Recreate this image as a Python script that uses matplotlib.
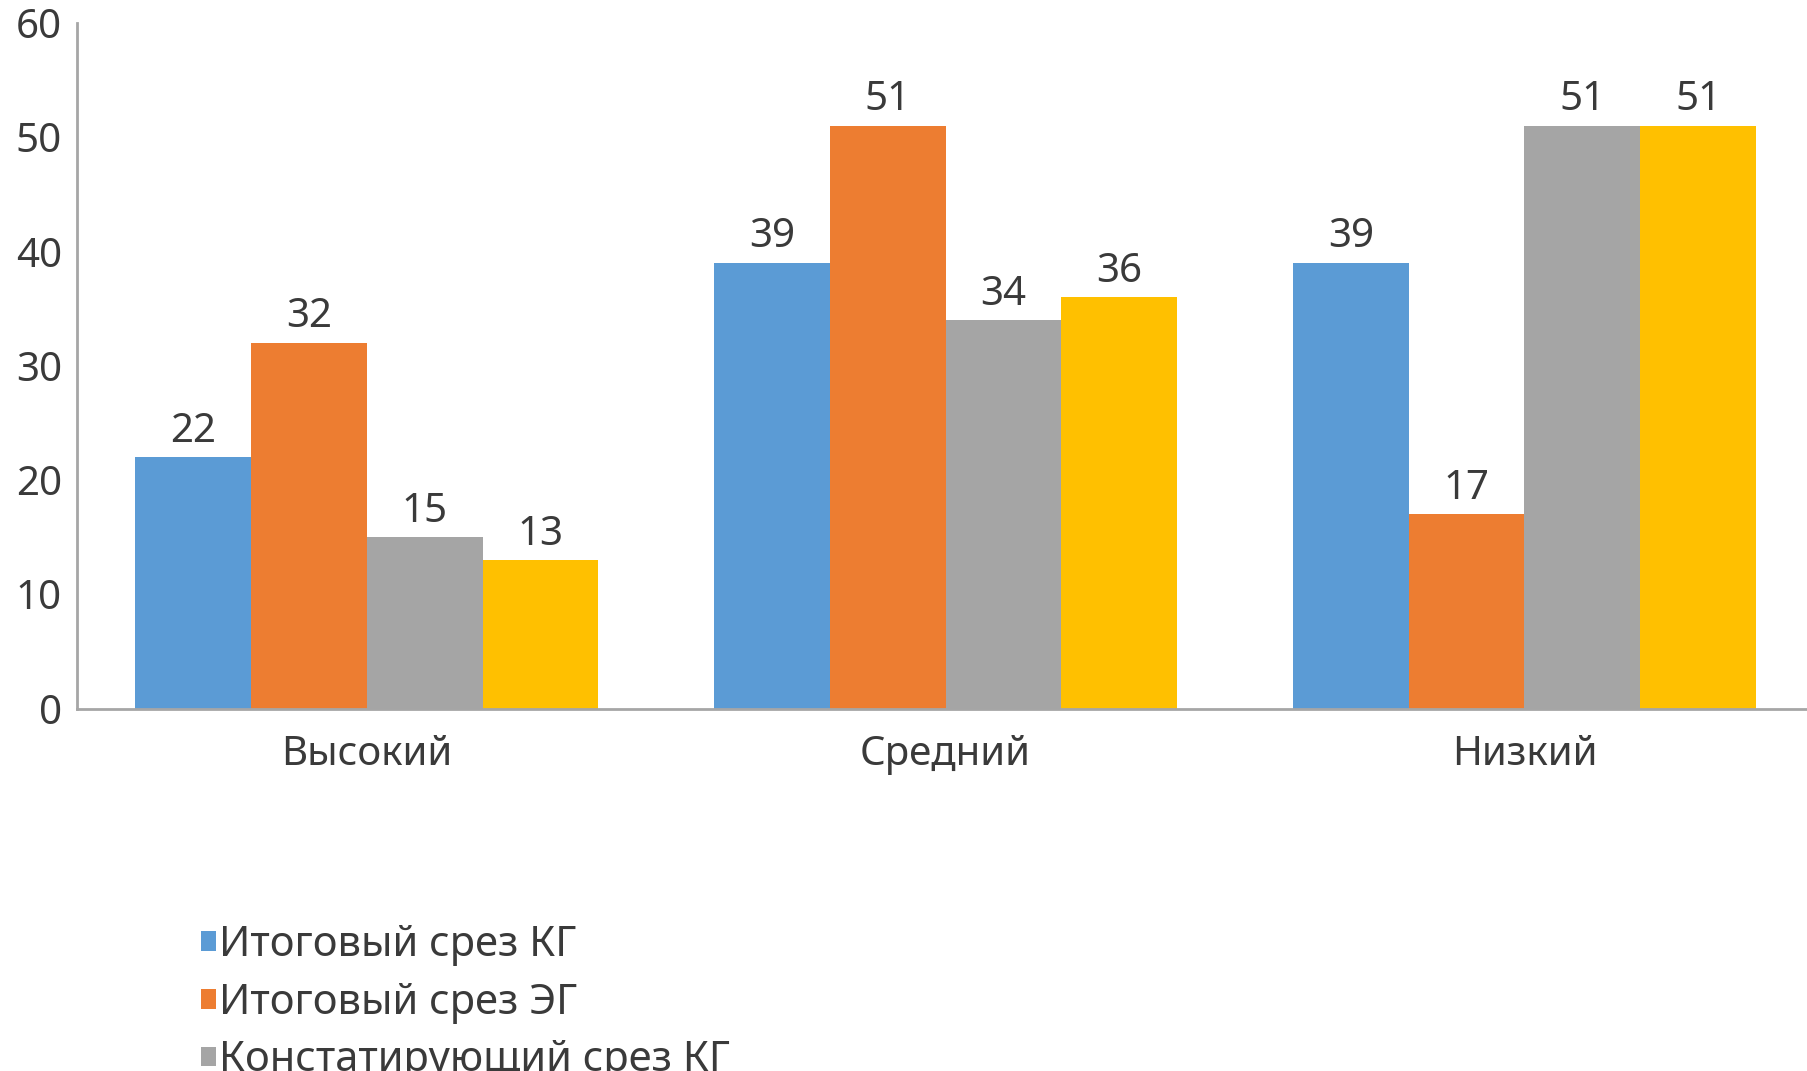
import numpy as np
import matplotlib.pyplot as plt

# --- DATA ---
categories = ['Высокий', 'Средний', 'Низкий']
series_names = ['Итоговый срез КГ', 'Итоговый срез ЭГ',
                'Констатирующий срез КГ', 'Констатирующий срез ЭГ']
final_kg = [22, 39, 39]
final_eg = [32, 51, 17]
initial_kg = [15, 34, 51]
initial_eg = [13, 36, 51]
y_ticks = [0, 10, 20, 30, 40, 50, 60]

# Excel-like palette
colors = ['#5B9BD5', '#ED7D31', '#A5A5A5', '#FFC000']
TEXT = '#3A3A3A'
AXIS = '#A6A6A6'

plt.rcParams['font.family'] = ['Noto Sans', 'DejaVu Sans']

fig = plt.figure(figsize=(18.07, 10.71), dpi=100)
ax = fig.add_axes([0.0428, 0.3384, 0.961, 0.640])

x = np.arange(len(categories))
bar_w = 0.2
all_series = [final_kg, final_eg, initial_kg, initial_eg]

for i, (vals, name, col) in enumerate(zip(all_series, series_names, colors)):
    offset = (i - 1.5) * bar_w
    bars = ax.bar(x + offset, vals, bar_w, color=col, label=name)
    ax.bar_label(bars, padding=4, fontsize=29, color=TEXT)

ax.set_xlim(-0.5, 2.5)
ax.set_ylim(0, 60)
ax.set_yticks(y_ticks)
ax.set_xticks(x)
ax.set_xticklabels(categories)
ax.tick_params(axis='both', length=0, labelsize=29, colors=TEXT)
ax.tick_params(axis='x', pad=19)
ax.tick_params(axis='y', pad=11)

for side in ['top', 'right']:
    ax.spines[side].set_visible(False)
for side in ['left', 'bottom']:
    ax.spines[side].set_color(AXIS)
    ax.spines[side].set_linewidth(2)

# legend sits low and is cut by the lower edge, like in the source
fig.legend(loc='upper left', bbox_to_anchor=(0.102, 0.153),
           frameon=False, fontsize=30, labelcolor=TEXT,
           handlelength=0.35, handleheight=0.35, handletextpad=0.08,
           labelspacing=0.38, borderaxespad=0)

fig.savefig('out.png', dpi=100)
